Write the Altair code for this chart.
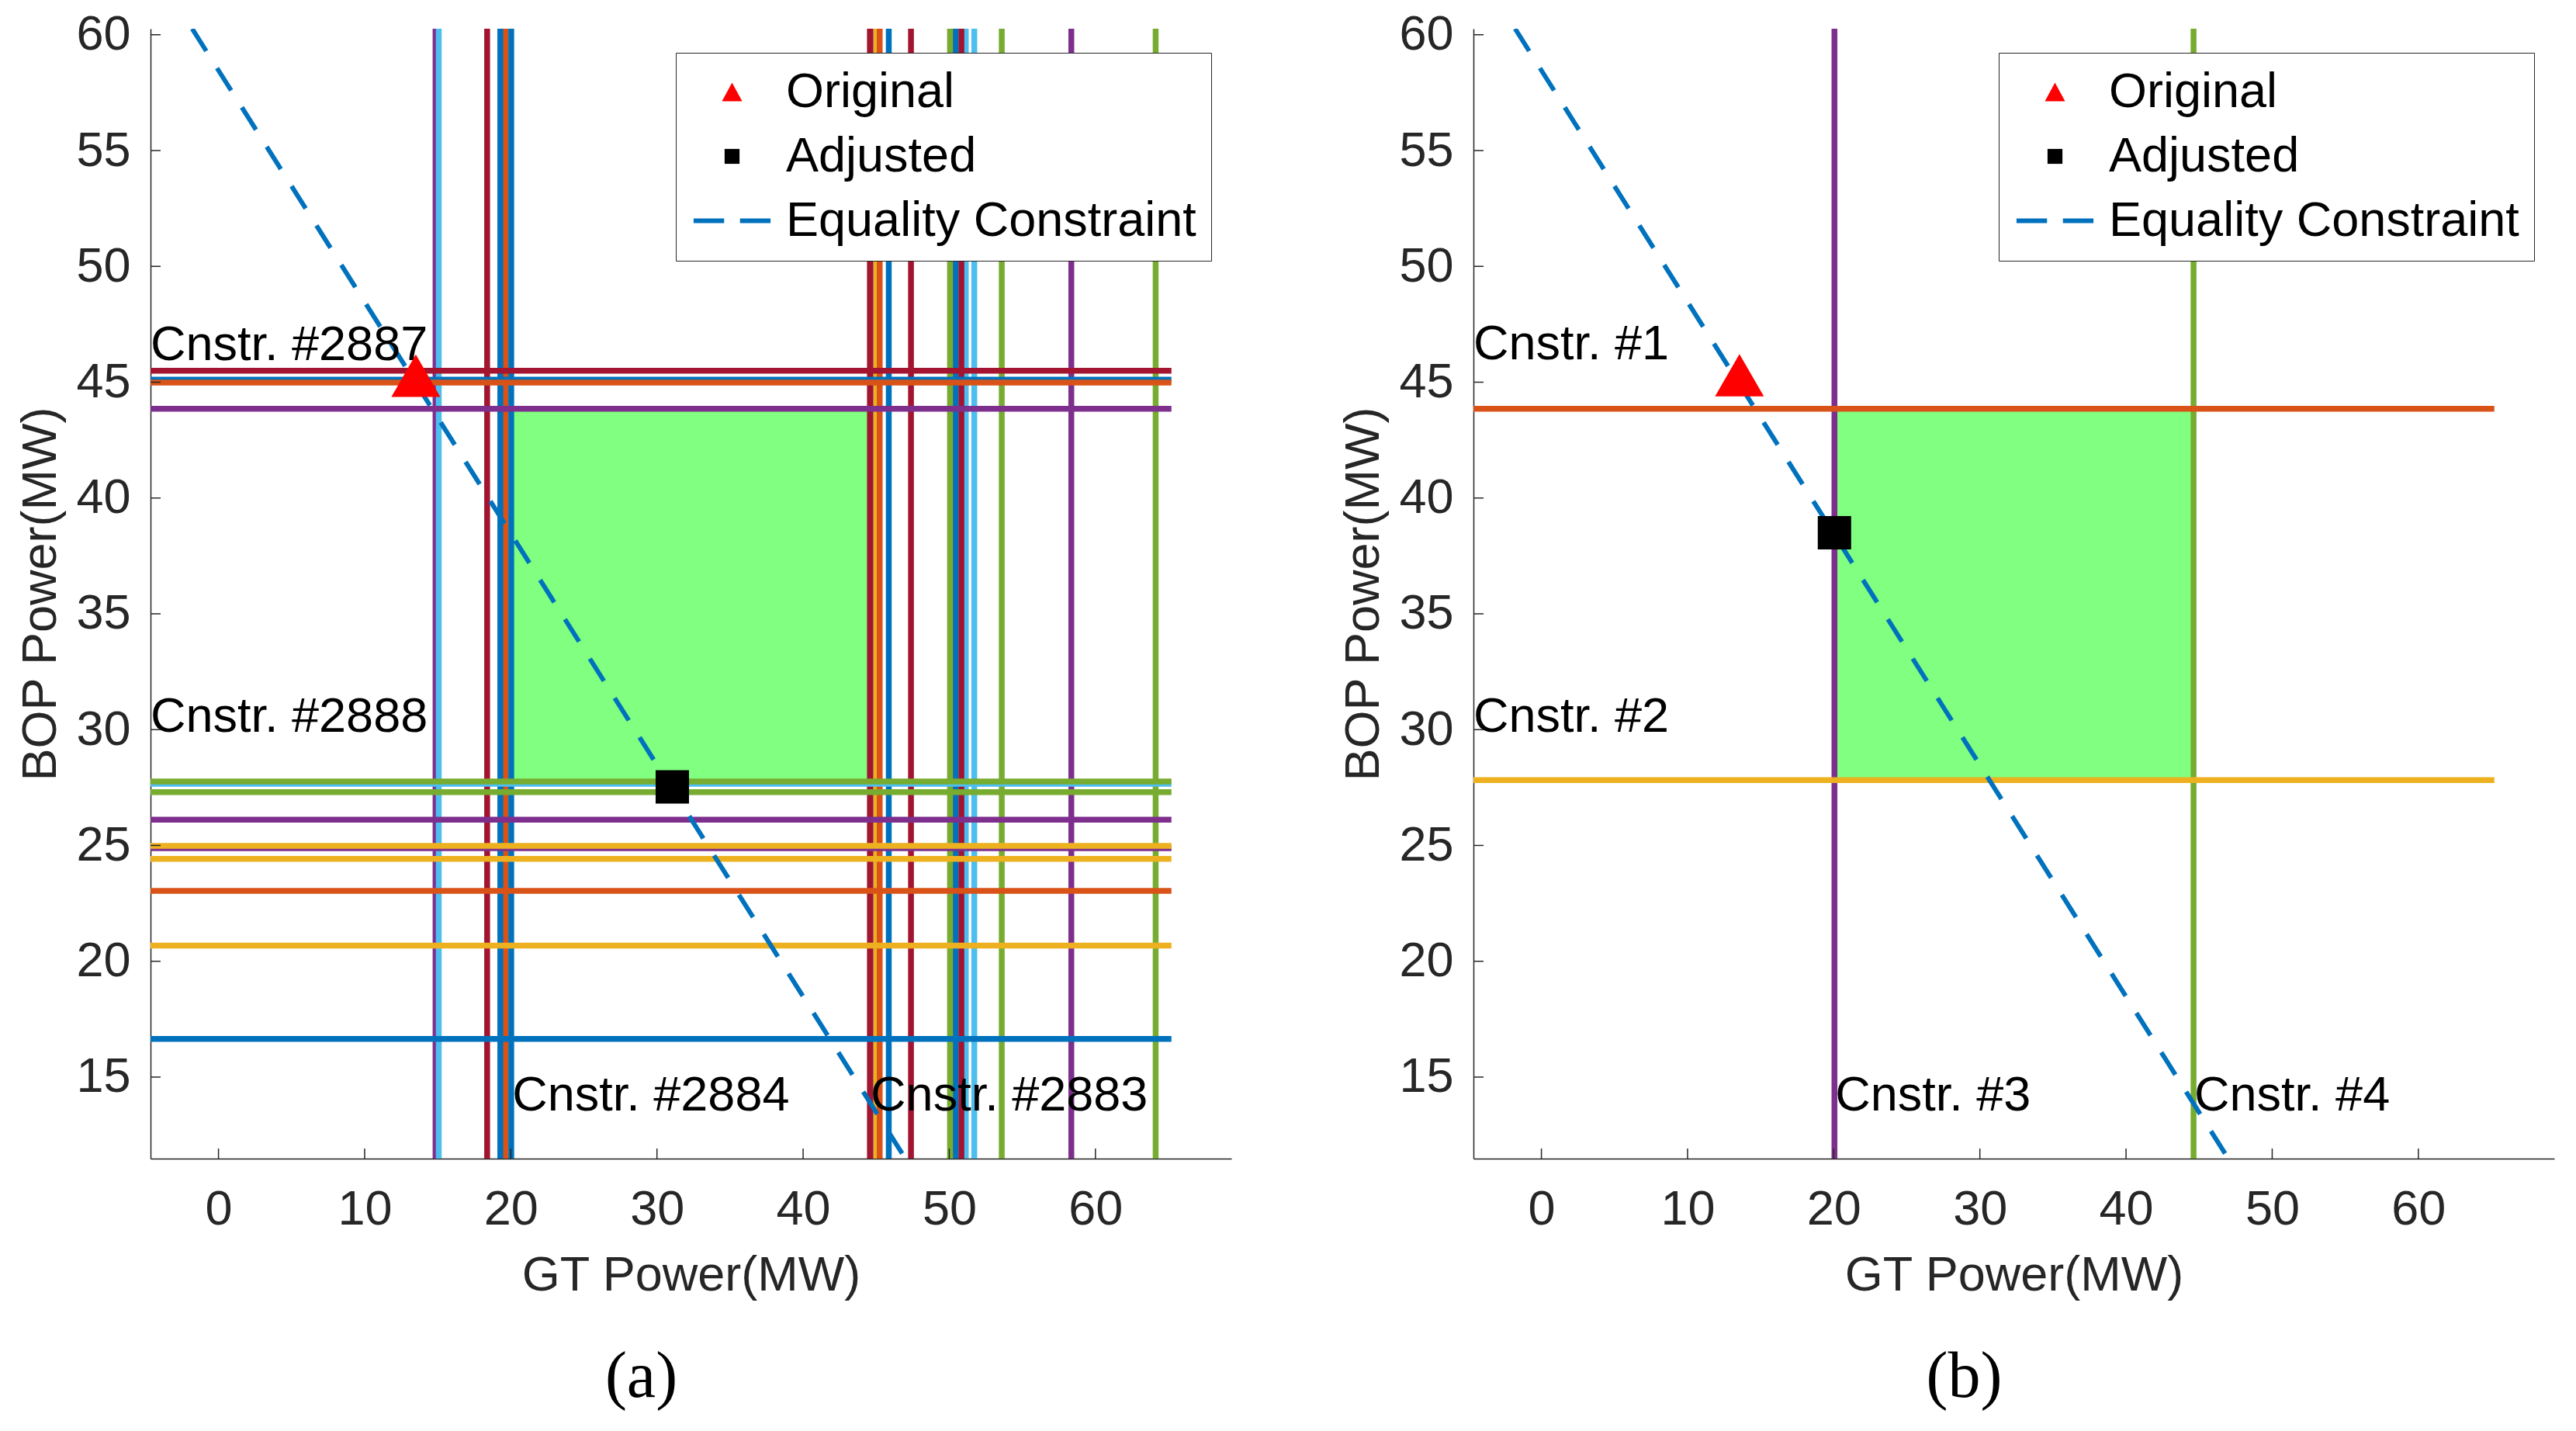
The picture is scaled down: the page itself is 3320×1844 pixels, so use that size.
import altair as alt
import pandas as pd

# MATLAB default palette
BLUE = "#0072BD"; ORANGE = "#D95319"; YELLOW = "#EDB120"; PURPLE = "#7E2F8E"
GREEN = "#77AC30"; LBLUE = "#4DBEEE"; DRED = "#A2142F"
FEAS = "#80FF80"
AX = "#262626"

X_DOMAIN = [-4.65, 69.3]
Y_DOMAIN = [11.48, 60.26]
X_TICKS = [0, 10, 20, 30, 40, 50, 60]
Y_TICKS = [15, 20, 25, 30, 35, 40, 45, 50, 55, 60]
H_START, H_END = -4.65, 65.2

# ---------- panel (a) ----------
a_vx = [14.85, 15.07, 18.38, 19.62, 19.66, 19.28, 20.03, 44.82, 45.00, 44.57, 45.24,
        45.86, 47.38, 50.25, 50.45, 50.05, 51.13, 50.83, 51.71, 53.59, 58.35, 64.12]
a_vc = [PURPLE, LBLUE, DRED, DRED, ORANGE, BLUE, BLUE, PURPLE, YELLOW, DRED, ORANGE,
        BLUE, DRED, ORANGE, BLUE, GREEN, LBLUE, DRED, LBLUE, GREEN, PURPLE, GREEN]
a_hy = [45.11, 45.49, 44.98, 43.85, 27.66, 27.76, 27.30, 26.11, 24.88, 24.98, 24.42,
        23.04, 20.68, 16.65]
a_hc = [BLUE, DRED, ORANGE, PURPLE, LBLUE, GREEN, GREEN, PURPLE, PURPLE, YELLOW, YELLOW,
        ORANGE, YELLOW, BLUE]
a_rect = [20.03, 44.57, 27.76, 43.85]
a_ann_text = ["Cnstr. #2887", "Cnstr. #2888", "Cnstr. #2884", "Cnstr. #2883"]
a_ann_x = [-4.65, -4.65, 20.1, 44.62]
a_ann_y = [45.97, 29.92, 13.57, 13.57]
a_orig = [13.5, 45.28]
a_adj = [31.05, 27.53]

# ---------- panel (b) ----------
b_vx = [20.05, 44.62]
b_vc = [PURPLE, GREEN]
b_hy = [43.85, 27.82]
b_hc = [ORANGE, YELLOW]
b_rect = [20.05, 44.62, 27.82, 43.85]
b_ann_text = ["Cnstr. #1", "Cnstr. #2", "Cnstr. #3", "Cnstr. #4"]
b_ann_x = [-4.65, -4.65, 20.1, 44.67]
b_ann_y = [46.0, 29.9, 13.56, 13.56]
b_orig = [13.55, 45.3]
b_adj = [20.05, 38.5]

# equality constraint x + y = const (end points)
eq_x = [-1.8, 47.0]
eq_y = [60.26, 11.48]

LEGEND_LABELS = ["Original", "Adjusted", "Equality Constraint"]
LEGEND_COLORS = ["#FF0000", "#000000", BLUE]
TRI = "M0,-0.39L-0.42,0.39L0.42,0.39Z"
SQ = "M-0.31,-0.31H0.31V0.31H-0.31Z"
DASH = "M-1.6,-0.095H-0.33V0.095H-1.6Z M0.33,-0.095H1.6V0.095H0.33Z"
LEGEND_SHAPES = [TRI, SQ, DASH]

W, H = 1393, 1456
FONT = "Liberation Sans"
FS = 63

xs = alt.Scale(domain=X_DOMAIN, nice=False, zero=False)
ys = alt.Scale(domain=Y_DOMAIN, nice=False, zero=False)
x_axis = alt.Axis(values=X_TICKS, title="GT Power(MW)", grid=False, ticks=False,
                  labelPadding=34, titlePadding=22, domainColor=AX, domainWidth=1.5,
                  labelFlush=False, labelOverlap=False, labelFont=FONT, labelFontSize=FS,
                  labelColor=AX, titleFont=FONT, titleFontSize=FS, titleColor=AX,
                  titleFontWeight="normal")
y_axis = alt.Axis(values=Y_TICKS, title="BOP Power(MW)", grid=False, ticks=False,
                  labelPadding=26, titlePadding=13, domainColor=AX, domainWidth=1.5,
                  labelFlush=False, labelOverlap=False, labelFont=FONT, labelFontSize=FS,
                  labelColor=AX, titleFont=FONT, titleFontSize=FS, titleColor=AX,
                  titleFontWeight="normal")


def panel(vx, vc, hy, hc, rect, ann_text, ann_x, ann_y, orig, adj, caption):
    X = lambda f: alt.X(f, scale=xs, axis=x_axis)
    Y = lambda f: alt.Y(f, scale=ys, axis=y_axis)

    rect_l = alt.Chart(pd.DataFrame({"x0": [rect[0]], "x1": [rect[1]], "y0": [rect[2]], "y1": [rect[3]]})) \
        .mark_rect(color=FEAS).encode(x=X("x0:Q"), x2="x1", y=Y("y0:Q"), y2="y1")

    vdf = pd.DataFrame({"x": vx, "c": vc, "o": list(range(len(vx)))})
    vrules = alt.Chart(vdf).mark_rule(strokeWidth=7.5).encode(
        x=X("x:Q"), stroke=alt.Stroke("c:N", scale=None), order="o:Q")

    hdf = pd.DataFrame({"y": hy, "c": hc, "x0": [H_START] * len(hy), "x1": [H_END] * len(hy),
                        "o": list(range(len(hy)))})
    hrules = alt.Chart(hdf).mark_rule(strokeWidth=7.5).encode(
        y=Y("y:Q"), x=X("x0:Q"), x2="x1", stroke=alt.Stroke("c:N", scale=None), order="o:Q")

    eq = alt.Chart(pd.DataFrame({"x": eq_x, "y": eq_y})).mark_line(
        color=BLUE, strokeWidth=6, strokeDash=[34, 26], clip=True).encode(x=X("x:Q"), y=Y("y:Q"))

    ann = alt.Chart(pd.DataFrame({"t": ann_text, "x": ann_x, "y": ann_y})).mark_text(
        align="left", baseline="alphabetic", font=FONT, fontSize=FS, color="black"
    ).encode(x=X("x:Q"), y=Y("y:Q"), text="t:N")

    tri = alt.Chart(pd.DataFrame({"x": [orig[0]], "y": [orig[1]]})).mark_point(
        shape="triangle-up", filled=True, size=3969, color="#FF0000", opacity=1, strokeWidth=0
    ).encode(x=X("x:Q"), y=Y("y:Q"))
    sq = alt.Chart(pd.DataFrame({"x": [adj[0]], "y": [adj[1]]})).mark_point(
        shape="square", filled=True, size=1849, color="#000000", opacity=1, strokeWidth=0
    ).encode(x=X("x:Q"), y=Y("y:Q"))

    leg = dict(orient="none", legendX=677, legendY=31, title=None, padding=19, rowPadding=19,
               strokeColor=AX, fillColor="white", labelFont=FONT, labelFontSize=FS,
               labelColor="black", symbolSize=3844, symbolOffset=22, labelOffset=38,
               symbolStrokeWidth=0, symbolOpacity=1, labelLimit=0, cornerRadius=0)
    legend_l = alt.Chart(pd.DataFrame({"series": LEGEND_LABELS, "x": [orig[0]] * 3, "y": [orig[1]] * 3})) \
        .mark_point(filled=True, opacity=0).encode(
            x=X("x:Q"), y=Y("y:Q"),
            color=alt.Color("series:N", scale=alt.Scale(domain=LEGEND_LABELS, range=LEGEND_COLORS),
                            legend=alt.Legend(**leg)),
            shape=alt.Shape("series:N", scale=alt.Scale(domain=LEGEND_LABELS, range=LEGEND_SHAPES),
                            legend=alt.Legend(**leg)))

    xt = alt.Chart(pd.DataFrame({"v": X_TICKS})).mark_rule(color=AX, strokeWidth=1.5).encode(
        x=X("v:Q"), y=alt.value(H), y2=alt.value(H - 13))
    yt = alt.Chart(pd.DataFrame({"v": Y_TICKS})).mark_rule(color=AX, strokeWidth=1.5).encode(
        y=Y("v:Q"), x=alt.value(0), x2=alt.value(13))

    return alt.layer(rect_l, vrules, hrules, eq, ann, tri, sq, legend_l, xt, yt).properties(
        width=W, height=H,
        title=alt.TitleParams(text=caption, orient="bottom", anchor="middle", frame="group",
                              font="Liberation Serif", fontSize=84, fontWeight="normal",
                              color="black", offset=59, dx=-64))


left = panel(a_vx, a_vc, a_hy, a_hc, a_rect, a_ann_text, a_ann_x, a_ann_y, a_orig, a_adj, "(a)")
right = panel(b_vx, b_vc, b_hy, b_hc, b_rect, b_ann_text, b_ann_x, b_ann_y, b_orig, b_adj, "(b)")

chart = alt.hconcat(left, right, spacing=139).resolve_scale(
    x="independent", y="independent", color="independent", shape="independent", stroke="independent"
).resolve_legend(color="independent", shape="independent").properties(
    padding={"left": 13, "top": 5, "right": 5, "bottom": 5}, background="white"
).configure_view(stroke=None)

chart.save("out.html", embed_options={"renderer": "svg", "actions": False})
